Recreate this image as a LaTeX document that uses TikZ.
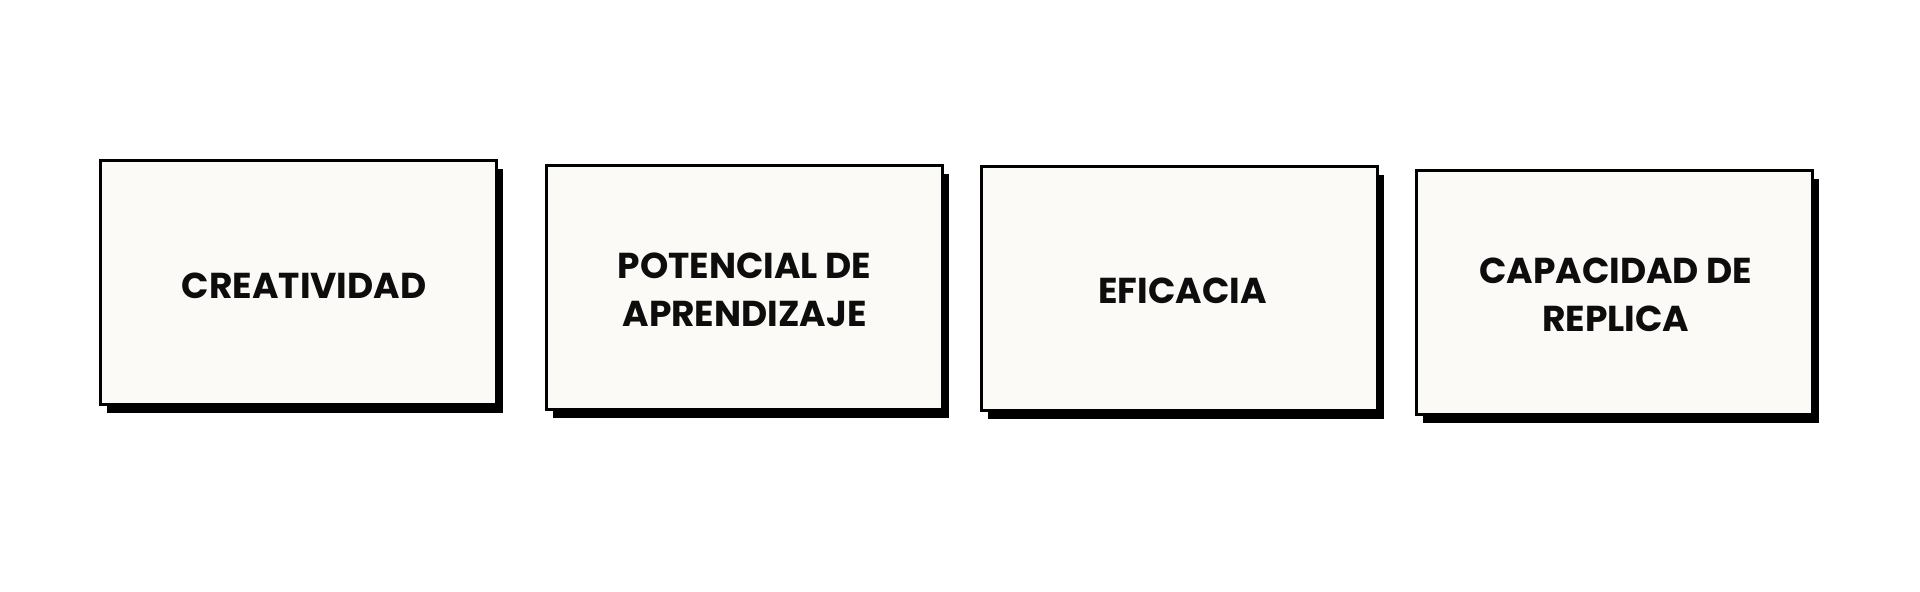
\documentclass[tikz,border=0pt]{standalone}
\usepackage{fontspec}
\setmainfont{Poppins}[UprightFont=* SemiBold, BoldFont=* Bold]
\usetikzlibrary{shadows}
\definecolor{boxfill}{HTML}{FBFAF6}
\definecolor{ink}{HTML}{0D0D0D}
\tikzset{
  card/.style={draw=black, line width=2.3pt, fill=boxfill, text=ink,
    minimum width=297pt, minimum height=183pt, align=center, inner sep=0pt,
    font=\fontsize{27}{35.5}\selectfont\bfseries,
    general shadow={shadow xshift=5pt, shadow yshift=-6.5pt, fill=black}},
  cardtext/.style={text=ink, align=center, inner sep=0pt,
    font=\fontsize{27}{35.5}\selectfont\bfseries}
}
\begin{document}
\begin{tikzpicture}[x=0.75pt,y=-0.75pt]
\useasboundingbox[fill=white] (0,0) rectangle (1920,592);
\node[card] (b1) at (298.8,282.3) {};
\node[card] (b2) at (744.5,287.2) {};
\node[card] (b3) at (1179.2,288.4) {};
\node[card] (b4) at (1614.5,292.1) {};
\node[cardtext] (t1) at ([xshift=4pt,yshift=-2.5pt]b1.center) {CREATIVIDAD};
\node[cardtext] (t2) at ([yshift=-2pt]b2.center) {POTENCIAL DE\\APRENDIZAJE};
\node[cardtext] (t3) at ([xshift=2.5pt,yshift=-2pt]b3.center) {EFICACIA};
\node[cardtext] (t4) at ([xshift=1pt,yshift=-2pt]b4.center) {CAPACIDAD DE\\REPLICA};
\end{tikzpicture}
\end{document}
